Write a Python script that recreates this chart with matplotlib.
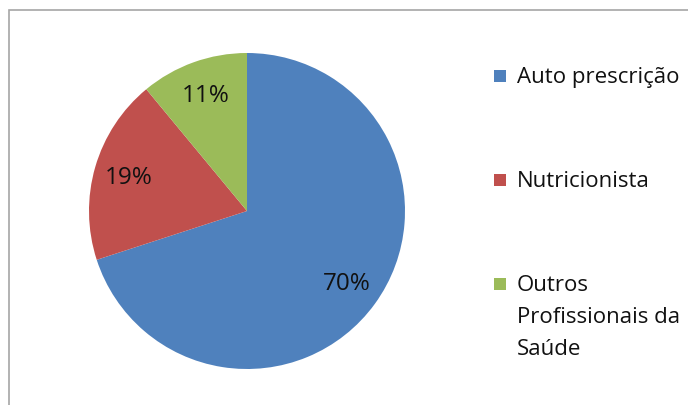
import matplotlib.pyplot as plt
from matplotlib.patches import Rectangle

plt.rcParams['font.family'] = ['Open Sans', 'DejaVu Sans']

# dados
categorias = ['Auto prescrição', 'Nutricionista', 'Outros\nProfissionais da\nSaúde']
valores = [70, 19, 11]
cores = ['#4F81BD', '#C0504D', '#9BBB59']

W, H = 688, 406
fig = plt.figure(figsize=(W / 100, H / 100), dpi=100)

# moldura do gráfico
fig.patches.append(Rectangle((9 / W, -0.1), 1.0, 0.1 + (H - 11) / H,
                             transform=fig.transFigure, fill=False,
                             edgecolor='#A6A6A6', linewidth=1.2))

ax = fig.add_axes([89 / W, 36 / H, 316 / W, 316 / H])
fatias, textos, pcts = ax.pie(valores, colors=cores, startangle=90, counterclock=False,
                              autopct='%1.0f%%', pctdistance=0.78, radius=1,
                              wedgeprops={'linewidth': 0},
                              textprops={'fontsize': 17.5, 'color': '#111111'})
ax.set_xlim(-1, 1)
ax.set_ylim(-1, 1)
ax.set_aspect('equal')

# legenda manual (quadrado alinhado com a primeira linha)
base0 = 83
passo = 104
linha = 32
for i, (nome, cor) in enumerate(zip(categorias, cores)):
    yb = base0 + i * passo
    fig.patches.append(Rectangle((494 / W, 1 - (yb - 0.5) / H), 12 / W, 12 / H,
                                 transform=fig.transFigure, facecolor=cor,
                                 edgecolor='none'))
    for j, parte in enumerate(nome.split('\n')):
        fig.text(517 / W, 1 - (yb + j * linha) / H, parte, fontsize=16,
                 color='#111111', va='baseline', ha='left')

fig.savefig('out.png', dpi=100)
